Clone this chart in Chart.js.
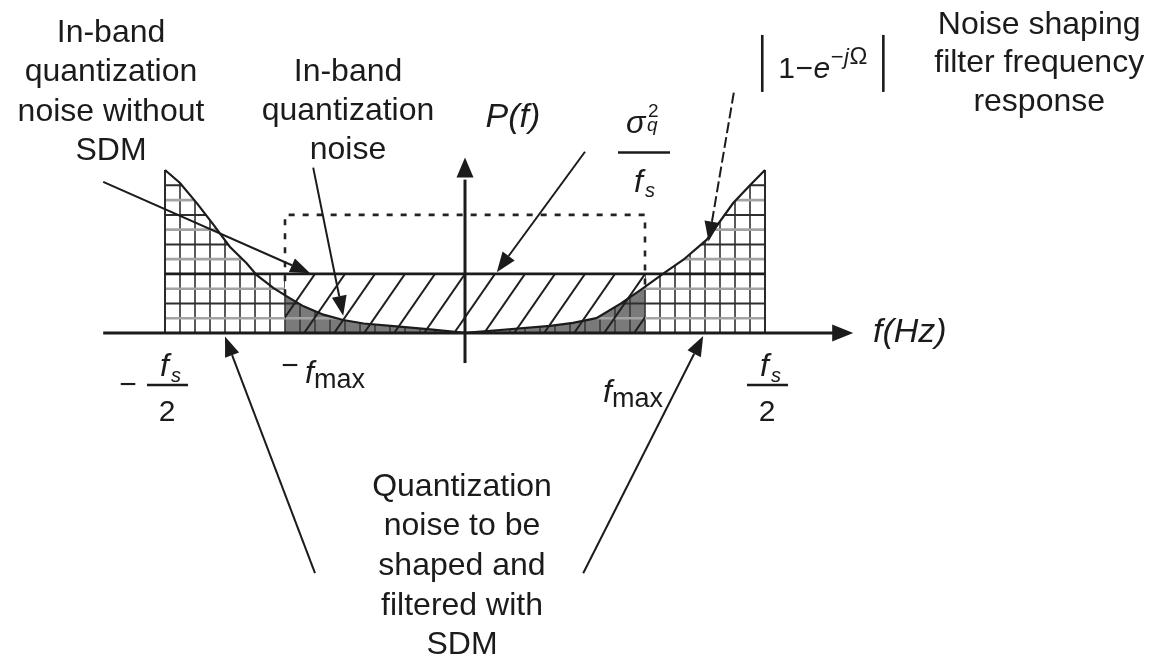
<!DOCTYPE html>
<html>
<head>
<meta charset="utf-8">
<script src="https://cdn.jsdelivr.net/npm/chart.js@4/dist/chart.umd.min.js"></script>
<style>
  html, body { margin: 0; padding: 0; background: #fff; }
  canvas { display: block; }
</style>
</head>
<body>
<canvas id="c" width="1155" height="660"></canvas>
<script>
// Frequency axis normalised to fs (so fs/2 = 0.5), noise density in units of sigma_q^2 / fs
const freq = [-0.5, -0.475, -0.447, -0.419, -0.392, -0.364, -0.347, -0.319, -0.297, -0.269, -0.236, -0.203, -0.169, -0.114, -0.058, 0,
              0.058, 0.142, 0.18, 0.219, 0.26, 0.297, 0.331, 0.364, 0.403, 0.447, 0.475, 0.5];
// |1 - e^{-jΩ}| shaped quantization noise
const shapedNoise = [2.76, 2.54, 2.20, 1.83, 1.46, 1.18, 0.98, 0.76, 0.62, 0.45, 0.31, 0.22, 0.16, 0.11, 0.06, 0,
                     0.05, 0.12, 0.17, 0.25, 0.50, 0.76, 1.01, 1.24, 1.58, 2.20, 2.50, 2.76];
const fHalf = 0.5;          // fs / 2
const fMax = 0.3;           // signal band edge
const flatLevel = 1;        // sigma_q^2 / fs
const unshapedLevel = 2;    // dotted in-band box

const labelWithoutSdm = ['In-band', 'quantization', 'noise without', 'SDM'];
const labelInBand = ['In-band', 'quantization', 'noise'];
const labelShaped = ['Quantization', 'noise to be', 'shaped and', 'filtered with', 'SDM'];
const labelFilter = ['Noise shaping', 'filter frequency', 'response'];

// Pointer arrows: [from, to] in axis units
const arrows = [
  { from: [-0.603, 2.56], to: [-0.258, 1.01] },
  { from: [-0.253, 2.80], to: [-0.203, 0.29] },
  { from: [0.200, 3.07], to: [0.053, 1.03] },
  { from: [0.448, 4.07], to: [0.406, 1.55], dashed: true },
  { from: [-0.250, -4.07], to: [-0.400, -0.06] },
  { from: [0.197, -4.07], to: [0.397, -0.05] }
];

const FONT = '"Liberation Sans", Arial, Helvetica, sans-serif';
const INK = '#1b1b1b';
const GRID_DX = 0.025, GRID_DY = 0.25;
const DIAG_STEP = 0.05, DIAG_RUN = 0.068;

function curveAt(f) {
  for (let i = 0; i < freq.length - 1; i++) {
    if (f >= freq[i] && f <= freq[i + 1]) {
      const t = (f - freq[i]) / (freq[i + 1] - freq[i]);
      return shapedNoise[i] + t * (shapedNoise[i + 1] - shapedNoise[i]);
    }
  }
  return 0;
}

function arrowHead(ctx, x1, y1, x2, y2, L, W) {
  const a = Math.atan2(y2 - y1, x2 - x1);
  const bx = x2 - L * Math.cos(a), by = y2 - L * Math.sin(a);
  ctx.beginPath();
  ctx.moveTo(x2, y2);
  ctx.lineTo(bx + W * Math.sin(a), by - W * Math.cos(a));
  ctx.lineTo(bx - W * Math.sin(a), by + W * Math.cos(a));
  ctx.closePath();
  ctx.fill();
  return [bx, by];
}

function drawGrid(ctx, X, Y, top) {
  ctx.lineWidth = 1.7;
  ctx.strokeStyle = '#3c3c3c';
  for (let k = 0; -fHalf + k * GRID_DX <= fHalf + 1e-9; k++) {
    const v = -fHalf + k * GRID_DX;
    ctx.beginPath(); ctx.moveTo(X(v), Y(0)); ctx.lineTo(X(v), Y(top)); ctx.stroke();
  }
  for (let k = 1; k * GRID_DY <= top + 0.3; k++) {
    const v = k * GRID_DY;
    const major = k % 2 === 0;
    ctx.strokeStyle = major ? '#2e2e2e' : '#a3a3a3';
    ctx.lineWidth = major ? 2 : 2.6;
    ctx.beginPath(); ctx.moveTo(X(-fHalf - 0.01), Y(v)); ctx.lineTo(X(fHalf + 0.01), Y(v)); ctx.stroke();
  }
}

const diagram = {
  id: 'diagram',
  beforeDatasetsDraw(chart) {
    const { ctx, scales: { x, y } } = chart;
    const X = v => x.getPixelForValue(v), Y = v => y.getPixelForValue(v);
    const peak = Math.max(...shapedNoise);

    const under = new Path2D();
    under.moveTo(X(freq[0]), Y(0));
    freq.forEach((f, i) => under.lineTo(X(f), Y(shapedNoise[i])));
    under.lineTo(X(freq[freq.length - 1]), Y(0));
    under.closePath();

    // Out-of-band noise: cross-hatched up to the larger of the shaped curve and the flat level
    ctx.save();
    const outBand = new Path2D();
    outBand.rect(X(-fHalf) - 3, Y(peak) - 3, X(-fMax) - X(-fHalf) + 3, Y(0) - Y(peak) + 3);
    outBand.rect(X(fMax), Y(peak) - 3, X(fHalf) - X(fMax) + 3, Y(0) - Y(peak) + 3);
    ctx.clip(outBand);
    const union = new Path2D(under);
    union.rect(X(-fHalf), Y(flatLevel), X(fHalf) - X(-fHalf), Y(0) - Y(flatLevel));
    ctx.clip(union);
    drawGrid(ctx, X, Y, peak);
    ctx.restore();

    // In-band shaped noise: dense dark hatch under the curve
    ctx.save();
    const inBand = new Path2D();
    inBand.rect(X(-fMax), Y(peak), X(fMax) - X(-fMax), Y(0) - Y(peak));
    ctx.clip(inBand);
    ctx.clip(under);
    ctx.fillStyle = '#7a7a7a';
    ctx.fillRect(X(-fMax), Y(peak), X(fMax) - X(-fMax), Y(0) - Y(peak));
    drawGrid(ctx, X, Y, peak);
    ctx.restore();

    // In-band flat noise: diagonal hatch
    ctx.save();
    const flat = new Path2D();
    flat.rect(X(-fMax), Y(flatLevel), X(fMax) - X(-fMax), Y(0) - Y(flatLevel));
    ctx.clip(flat);
    ctx.strokeStyle = '#202020';
    ctx.lineWidth = 2;
    for (let k = -8; k <= 8; k++) {
      const xt = k * DIAG_STEP;
      ctx.beginPath();
      ctx.moveTo(X(xt + DIAG_RUN * 0.3), Y(flatLevel + 0.3));
      ctx.lineTo(X(xt - DIAG_RUN * 1.3), Y(-0.3));
      ctx.stroke();
    }
    ctx.restore();

    // Edge lines at +-fs/2
    ctx.strokeStyle = '#2a2a2a';
    ctx.lineWidth = 2;
    [-fHalf, fHalf].forEach(v => {
      ctx.beginPath(); ctx.moveTo(X(v), Y(0)); ctx.lineTo(X(v), Y(curveAt(v))); ctx.stroke();
    });
  },
  afterDatasetsDraw(chart) {
    const { ctx, scales: { x, y } } = chart;
    const X = v => x.getPixelForValue(v), Y = v => y.getPixelForValue(v);
    ctx.save();
    ctx.strokeStyle = INK;
    ctx.fillStyle = INK;

    // Axes
    ctx.lineWidth = 3;
    let [bx, by] = arrowHead(ctx, X(-0.603), Y(0), X(0.647), Y(0), 21, 8.5);
    ctx.beginPath(); ctx.moveTo(X(-0.603), Y(0)); ctx.lineTo(bx + 2, by); ctx.stroke();
    [bx, by] = arrowHead(ctx, X(0), Y(-0.51), X(0), Y(2.97), 20, 8.5);
    ctx.beginPath(); ctx.moveTo(X(0), Y(-0.51)); ctx.lineTo(bx, by + 2); ctx.stroke();

    // Pointer arrows
    ctx.lineWidth = 2;
    arrows.forEach(a => {
      const x1 = X(a.from[0]), y1 = Y(a.from[1]), x2 = X(a.to[0]), y2 = Y(a.to[1]);
      const [hx, hy] = arrowHead(ctx, x1, y1, x2, y2, 20, 7.5);
      ctx.setLineDash(a.dashed ? [11, 4] : []);
      ctx.beginPath(); ctx.moveTo(x1, y1); ctx.lineTo(hx, hy); ctx.stroke();
      ctx.setLineDash([]);
    });

    // Text blocks
    ctx.textAlign = 'center';
    ctx.textBaseline = 'middle';
    const block = (lines, cx, cy, lh) => {
      ctx.font = '32px ' + FONT;
      lines.forEach((t, i) => ctx.fillText(t, cx, cy + i * lh));
    };
    block(labelWithoutSdm, X(-0.59), Y(5.076), 39.3);
    block(labelInBand, X(-0.195), Y(4.424), 39.3);
    block(labelShaped, X(-0.005), Y(-2.61), 39.6);
    block(labelFilter, X(0.957), Y(5.22), 38.5);

    // P(f)
    ctx.font = 'italic 34px ' + FONT;
    ctx.fillText('P(f)', X(0.08), Y(3.644));

    // f(Hz)
    ctx.textAlign = 'left';
    ctx.fillText('f(Hz)', X(0.68), Y(0));

    ctx.textBaseline = 'alphabetic';

    // sigma_q^2 / fs
    {
      const cx = X(fMax) - 1, by0 = Y(3.056);
      ctx.lineWidth = 2.4;
      ctx.beginPath(); ctx.moveTo(cx - 26, by0); ctx.lineTo(cx + 26, by0); ctx.stroke();
      ctx.textAlign = 'left';
      ctx.font = 'italic 32px ' + FONT;
      ctx.fillText('σ', cx - 18, by0 - 20);
      ctx.font = '19px ' + FONT;
      ctx.fillText('2', cx + 4, by0 - 36);
      ctx.font = 'italic 19px ' + FONT;
      ctx.fillText('q', cx + 3, by0 - 22);
      ctx.font = 'italic 32px ' + FONT;
      ctx.fillText('f', cx - 10, by0 + 39);
      ctx.font = 'italic 20px ' + FONT;
      ctx.fillText('s', cx + 1, by0 + 44);
    }

    // |1 - e^{-jΩ}|
    {
      const parts = [
        ['1', '30px ', 0], ['−', '30px ', 0], ['e', 'italic 30px ', 0],
        ['−', '22px ', -14], ['j', 'italic 22px ', -14], ['Ω', '24px ', -14]
      ];
      let total = 0;
      parts.forEach(p => { ctx.font = p[1] + FONT; p.push(ctx.measureText(p[0]).width + (p[0] === 'Ω' ? 2 : 0.5)); total += p[3]; });
      const cx = X(0.598), base = Y(4.32);
      let xx = cx - total / 2;
      ctx.textAlign = 'left';
      parts.forEach(p => { ctx.font = p[1] + FONT; ctx.fillText(p[0], xx, base + p[2]); xx += p[3]; });
      ctx.lineWidth = 2.6;
      [cx - total / 2 - 16, cx + total / 2 + 14].forEach(bxp => {
        ctx.beginPath(); ctx.moveTo(bxp, base - 43); ctx.lineTo(bxp, base + 14); ctx.stroke();
      });
    }

    // Tick labels: -fs/2 and fs/2
    const fsOver2 = (cx, barY) => {
      ctx.lineWidth = 2.4;
      ctx.beginPath(); ctx.moveTo(cx - 20, barY); ctx.lineTo(cx + 21, barY); ctx.stroke();
      ctx.textAlign = 'left';
      ctx.font = 'italic 32px ' + FONT;
      ctx.fillText('f', cx - 7, barY - 9);
      ctx.font = 'italic 20px ' + FONT;
      ctx.fillText('s', cx + 4, barY - 3);
      ctx.textAlign = 'center';
      ctx.font = '30px ' + FONT;
      ctx.fillText('2', cx, barY + 36);
    };
    const axisY = Y(0);
    fsOver2(X(-fHalf) + 2, axisY + 52);
    fsOver2(X(fHalf) + 2, axisY + 52);
    ctx.textAlign = 'center';
    ctx.font = '30px ' + FONT;
    ctx.fillText('−', X(-fHalf) - 37, axisY + 61);

    // Tick labels: -fmax and fmax
    const fSub = (left, base, sub) => {
      ctx.textAlign = 'left';
      ctx.font = 'italic 32px ' + FONT;
      ctx.fillText('f', left, base);
      ctx.font = '27px ' + FONT;
      ctx.fillText(sub, left + 9, base + 5);
    };
    ctx.textAlign = 'center';
    ctx.font = '30px ' + FONT;
    ctx.fillText('−', X(-fMax) + 5, axisY + 42);
    fSub(X(-fMax) + 20, axisY + 50, 'max');
    fSub(X(fMax) - 42, axisY + 69, 'max');

    ctx.restore();
  }
};

const curvePoints = freq.map((f, i) => ({ x: f, y: shapedNoise[i] }));
const levelPoints = [{ x: -fHalf, y: flatLevel }, { x: fHalf, y: flatLevel }];
const boxPoints = [
  { x: -fMax, y: curveAt(-fMax) }, { x: -fMax, y: unshapedLevel },
  { x: fMax, y: unshapedLevel }, { x: fMax, y: curveAt(fMax) }
];

new Chart(document.getElementById('c'), {
  type: 'scatter',
  data: {
    datasets: [
      { data: curvePoints, showLine: true, borderColor: INK, borderWidth: 2.2, pointRadius: 0, tension: 0, order: 1 },
      { data: levelPoints, showLine: true, borderColor: INK, borderWidth: 2.6, pointRadius: 0, order: 2 },
      { data: boxPoints, showLine: true, borderColor: '#222', borderWidth: 2.6, borderDash: [6, 8], pointRadius: 0, order: 3 }
    ]
  },
  options: {
    responsive: false,
    animation: false,
    events: [],
    layout: { padding: 0 },
    plugins: { legend: { display: false }, tooltip: { enabled: false }, title: { display: false } },
    scales: {
      x: { type: 'linear', display: false, min: -0.775, max: 1.15 },
      y: { type: 'linear', display: false, min: -5.54, max: 5.64 }
    }
  },
  plugins: [diagram]
});
</script>
</body>
</html>
